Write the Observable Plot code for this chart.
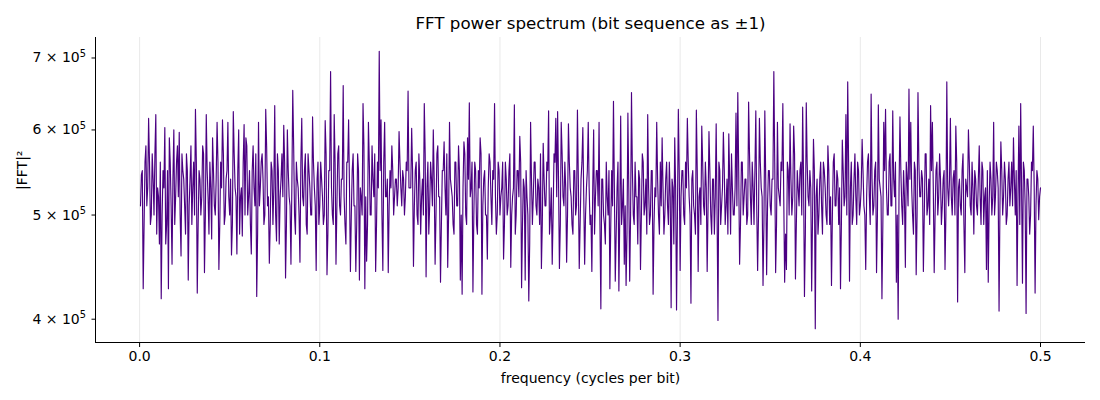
<!DOCTYPE html>
<html><head><meta charset="utf-8">
<script src="https://cdn.jsdelivr.net/npm/d3@7"></script>
<script src="https://cdn.jsdelivr.net/npm/@observablehq/plot@0.6"></script>
<style>
body{margin:0;background:#fff}
svg{font-family:"DejaVu Sans",sans-serif}
</style>
</head><body><div id="chart"></div>
<script>
// |FFT|^2 in units of 1e5. Spectrum of nBits = 2000 bits: bin j -> j / nBits cycles per bit.
// evenBinsE5[k] is bin 2k+2, oddBinsE5[k] is bin 2k+1.
const evenBinsE5 = [
5.45,4.27,5.6,5.1,6.15,4.9,5.7,5.0,6.2,5.3,4.7,4.18,5.5,6.03,4.9,4.27,5.6,4.5,6.0,5.2,5.8,5.97,4.58,5.5,5.1,5.7,4.35,5.4,4.9,5.6,6.27,4.23,5.5,5.0,5.8,4.42,6.2,5.2,5.6,4.75,5.5,5.0,6.1,4.45,5.6,6.13,4.9,5.4,6.1,5.0,
4.59,6.24,5.3,4.6,6.0,5.2,4.78,6.07,5.9,5.0,5.5,4.6,5.8,5.1,4.2,6.1,5.3,5.7,4.9,6.27,5.1,4.51,5.6,4.9,6.32,4.73,5.5,5.2,5.7,6.06,4.37,6.0,5.2,4.5,6.53,5.0,5.6,5.3,4.52,6.15,5.1,5.7,4.8,5.5,5.0,6.17,5.3,4.44,5.6,5.1,
5.4,4.9,6.12,4.4,5.5,6.8,5.0,6.2,4.5,5.7,5.1,5.4,6.6,4.9,5.6,6.13,4.43,5.5,5.1,4.43,5.7,4.35,5.2,6.35,4.27,4.53,6.1,5.0,5.8,5.2,4.43,5.6,7.1,6.13,4.44,6.1,5.2,4.42,5.5,5.8,5.0,5.4,5.1,5.98,5.3,5.5,5.0,5.6,6.52,5.3,
6.02,4.48,5.5,5.0,5.7,4.8,5.4,6.35,4.38,5.6,5.1,5.4,6.0,4.5,5.7,5.2,4.33,5.5,5.85,5.0,4.47,6.1,5.3,4.9,5.6,5.1,5.8,4.35,4.22,5.85,5.0,5.9,6.36,5.3,4.24,5.6,4.9,5.5,5.9,4.22,5.4,5.0,4.55,5.7,5.2,5.5,6.35,4.8,5.6,5.0,
5.3,4.55,5.6,5.0,5.5,4.47,5.2,6.33,5.0,5.5,5.92,4.28,5.4,4.35,5.2,4.16,6.1,4.9,5.6,5.1,5.4,4.9,4.46,5.83,5.1,5.6,6.25,5.0,4.5,5.7,6.15,6.24,4.46,6.1,5.2,5.6,4.52,6.08,5.3,4.9,5.5,5.0,6.26,4.46,5.4,6.03,4.5,5.3,6.1,4.9,
4.43,6.0,5.2,5.5,6.1,4.09,5.4,4.9,5.6,5.0,4.27,5.5,6.38,4.34,5.3,4.25,6.18,5.1,4.5,4.3,6.22,4.34,6.5,5.0,5.6,5.2,5.5,4.45,5.7,5.0,5.4,6.2,4.9,5.5,4.22,5.3,6.1,5.0,5.6,5.9,4.8,5.4,5.1,5.6,4.1,5.3,5.9,4.08,6.27,4.44,
5.5,5.0,5.6,6.15,5.2,4.14,5.5,5.0,6.26,4.43,5.3,6.05,5.1,5.6,4.43,5.98,5.0,5.4,4.8,6.08,3.99,5.5,5.1,5.97,4.9,5.4,5.95,4.8,5.3,5.0,6.22,6.5,4.5,5.6,5.0,5.4,4.9,6.37,5.2,5.6,4.9,6.25,4.44,6.15,5.3,4.3,6.25,4.4,5.5,5.1,
5.4,6.8,4.42,6.1,5.2,5.6,6.35,4.33,4.45,5.5,6.08,5.0,6.05,4.36,5.5,5.1,5.6,6.3,4.2,6.36,5.2,5.5,4.25,5.88,3.92,5.4,5.0,5.6,4.8,5.5,5.0,5.8,4.9,4.3,5.6,5.1,5.5,4.9,4.27,5.87,5.1,6.2,6.65,4.34,5.6,5.0,5.7,4.9,5.5,5.1,
5.88,5.1,4.45,5.6,5.2,6.48,5.0,5.5,4.42,6.33,5.3,4.18,6.1,6.27,5.0,5.6,5.1,6.25,5.2,4.33,4.0,6.17,5.1,5.5,4.47,5.4,6.55,6.1,5.0,5.6,4.4,6.5,5.2,5.5,4.43,5.7,5.0,5.4,6.32,6.1,4.42,5.5,5.0,5.7,4.9,5.4,4.45,6.65,5.1,6.15,
5.0,5.5,6.05,4.15,5.4,5.0,5.7,4.42,5.3,6.0,5.1,5.6,4.8,5.4,5.0,5.8,4.9,5.5,5.2,4.45,4.33,5.6,5.0,6.1,5.2,5.5,4.07,5.85,5.0,5.6,4.9,5.4,5.1,5.6,5.9,5.0,4.3,6.05,6.35,4.32,5.5,4.05,5.4,4.8,5.6,6.05,4.23,5.5,4.95,5.3
];
const oddBinsE5 = [
5.1,5.5,4.9,5.8,5.3,5.6,5.0,5.4,5.7,4.8,5.2,5.6,5.0,5.3,4.7,5.5,5.9,5.1,5.4,4.9,5.6,5.2,5.0,5.7,5.4,4.8,5.5,5.1,5.8,5.3,5.0,5.6,4.9,5.4,5.2,5.7,5.0,5.5,4.8,5.3,5.9,5.1,5.4,5.6,4.9,5.3,5.7,5.0,5.5,5.2,
5.4,4.9,5.7,5.2,5.5,4.8,5.3,5.6,5.0,5.8,5.2,4.9,5.5,5.3,5.7,4.8,5.1,5.6,5.4,5.0,5.8,5.2,4.9,5.5,5.3,5.0,5.7,4.7,5.4,5.2,5.6,4.9,5.5,5.1,5.3,5.8,4.8,5.4,5.0,5.6,5.2,5.5,4.9,5.7,5.3,5.0,5.6,5.1,5.4,4.9,
5.6,5.2,5.0,5.7,4.8,5.5,5.3,4.9,5.6,5.1,5.8,5.0,5.4,5.2,4.7,5.6,5.3,5.0,5.7,5.1,4.9,5.5,5.3,5.0,5.8,5.2,4.9,5.6,5.0,5.4,5.7,4.9,5.3,5.5,5.0,5.6,5.2,5.4,5.1,5.3,5.5,5.2,5.4,5.3,5.6,5.1,5.4,5.2,5.5,5.3,
5.3,5.5,5.1,5.6,4.9,5.4,5.2,5.0,5.7,5.3,4.8,5.6,5.1,5.4,5.0,5.8,5.2,4.9,5.5,5.3,5.7,5.0,5.4,5.2,4.8,5.6,5.1,5.5,5.0,5.3,5.7,4.9,5.4,5.2,5.6,5.0,5.5,4.8,5.3,5.7,5.1,5.5,5.0,5.3,5.6,4.9,5.4,5.2,5.0,5.5,
5.2,5.6,4.9,5.4,5.1,5.7,5.0,5.3,4.8,5.5,5.2,5.6,4.9,5.3,5.5,5.0,4.7,5.4,5.2,5.6,5.0,5.3,5.7,4.9,5.4,5.1,5.5,4.8,5.3,5.0,5.6,5.2,5.4,4.9,5.7,5.1,5.3,5.0,5.6,5.2,4.8,5.5,5.1,5.4,4.9,5.6,5.2,5.0,5.5,5.3,
5.0,5.3,4.8,5.5,5.1,4.9,5.4,5.0,4.7,5.2,5.5,4.9,5.1,5.3,4.8,5.6,5.0,4.9,5.4,5.1,4.8,5.3,5.0,5.5,4.9,5.2,4.7,5.4,5.0,5.6,5.1,4.8,5.3,5.0,5.5,4.9,5.2,5.4,4.8,5.1,5.3,5.0,5.6,4.9,5.2,5.4,4.7,5.3,5.0,5.5,
5.2,5.5,4.9,5.3,5.6,5.0,5.4,5.1,4.8,5.5,5.2,4.9,5.6,5.0,5.3,5.1,5.5,4.8,5.4,5.2,5.0,5.6,4.9,5.3,5.5,5.1,4.8,5.4,5.7,5.0,5.3,5.1,5.5,4.9,5.6,5.2,5.4,5.0,5.7,4.9,5.3,5.5,5.1,5.0,5.6,5.2,4.9,5.4,5.1,5.5,
5.0,5.4,5.6,4.9,5.3,5.1,5.5,5.2,4.8,5.6,5.0,5.4,5.2,5.7,4.9,5.3,5.5,5.0,5.4,4.8,5.6,5.1,5.3,5.0,5.5,5.2,4.8,5.4,5.1,5.6,5.3,4.9,5.5,5.2,5.0,5.7,5.1,5.4,5.3,4.9,5.5,5.2,5.0,5.6,5.3,4.9,5.4,5.2,5.6,5.0,
5.3,5.5,5.0,5.2,5.7,4.9,5.4,5.1,5.6,5.0,5.4,5.2,4.9,5.5,5.3,5.0,5.7,5.1,5.4,5.6,5.0,5.3,5.5,4.9,5.2,5.6,5.1,5.4,5.3,4.8,5.5,5.0,5.6,5.2,5.4,5.0,5.7,5.1,4.9,5.5,5.3,5.0,5.6,5.2,5.4,5.1,5.5,5.0,5.3,5.4,
5.2,5.4,5.0,5.6,5.3,5.1,5.5,4.9,5.4,5.2,5.6,5.0,5.3,5.5,5.1,5.4,5.2,5.6,4.9,5.3,5.5,5.1,5.4,5.2,5.0,5.6,5.3,5.1,5.5,5.2,5.4,5.0,5.6,5.3,5.1,5.4,5.5,5.2,4.9,5.3,5.6,5.1,5.4,5.2,5.0,5.5,5.3,5.1,5.4,5.2
];
const nBits = 2000;
const xTicks = [0, 0.1, 0.2, 0.3, 0.4, 0.5];
const yTicks = [4e5, 5e5, 6e5, 7e5];
const titleText = "FFT power spectrum (bit sequence as ±1)";
const xLabel = "frequency (cycles per bit)";
const yLabel = "|FFT|²";
const lineColor = "#4B0082";

const data = [];
evenBinsE5.forEach((v, k) => {
  if (k < oddBinsE5.length) data.push({f: (2 * k + 1) / nBits, p: oddBinsE5[k] * 1e5});
  data.push({f: (2 * k + 2) / nBits, p: v * 1e5});
});

// matplotlib-like 5% margins
const fExt = d3.extent(data, d => d.f);
const fPad = (fExt[1] - fExt[0]) * 0.05;
const xDom = [fExt[0] - fPad, fExt[1] + fPad];
const lExt = d3.extent(data, d => Math.log10(d.p));
const lPad = (lExt[1] - lExt[0]) * 0.05;
const yDom = [10 ** (lExt[0] - lPad), 10 ** (lExt[1] + lPad)];

const fmtY = d => {
  const e = Math.floor(Math.log10(d) + 1e-9);
  const m = Math.round(d / 10 ** e);
  return `${m} × 10^${e}`;
};

const chart = Plot.plot({
  width: 1100, height: 400,
  marginLeft: 95, marginRight: 15, marginTop: 37, marginBottom: 58,
  style: {fontFamily: "DejaVu Sans, sans-serif", fontSize: "14px", color: "#000", background: "#fff"},
  x: {domain: xDom},
  y: {type: "log", domain: yDom},
  marks: [
    Plot.ruleX(xTicks, {stroke: "#b0b0b0", strokeOpacity: 0.35, strokeWidth: 0.8}),
    Plot.line(data, {x: "f", y: "p", stroke: lineColor, strokeWidth: 1.15}),
    Plot.ruleX([xDom[0]], {stroke: "#000", strokeWidth: 1}),
    Plot.ruleY([yDom[0]], {stroke: "#000", strokeWidth: 1}),
    Plot.axisX({ticks: xTicks, tickFormat: d3.format(".1f"), tickSize: 5, tickPadding: 4, label: null, fontSize: 14}),
    Plot.axisY({ticks: yTicks, tickFormat: fmtY, tickSize: 3.5, tickPadding: 6, label: null, fontSize: 14}),
    Plot.text([xLabel], {text: d => d, frameAnchor: "bottom", dy: 36, fontSize: 14, lineAnchor: "middle"}),
    Plot.text([yLabel], {text: d => d, frameAnchor: "left", dx: -73, rotate: -90, fontSize: 14, lineAnchor: "middle"}),
    Plot.text([titleText], {text: d => d, frameAnchor: "top", dy: -14, fontSize: 16.7, lineAnchor: "middle"})
  ]
});

// render "10^5" as a real superscript, like matplotlib mathtext
d3.select(chart).selectAll("text").each(function () {
  const t = this.textContent;
  if (t.includes("^")) {
    const [base, exp] = t.split("^");
    const sel = d3.select(this);
    sel.text(null);
    sel.append("tspan").text(base);
    sel.append("tspan").attr("font-size", "70%").attr("dy", "-0.55em").text(exp);
  }
});
document.getElementById("chart").appendChild(chart);
</script>
</body></html>
